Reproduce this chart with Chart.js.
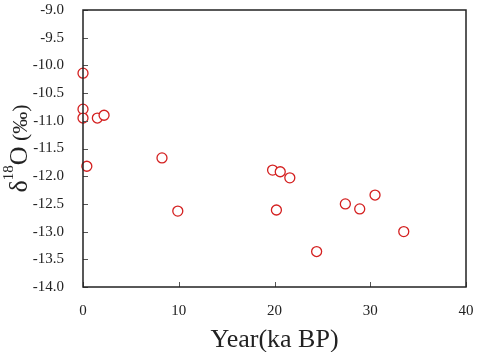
<!DOCTYPE html>
<html>
<head>
<meta charset="utf-8">
<script src="https://cdn.jsdelivr.net/npm/chart.js@4"></script>
<style>
  html, body { margin: 0; padding: 0; background: #fff; }
  #wrap { width: 500px; height: 352px; }
</style>
</head>
<body>
<div id="wrap"><canvas id="chart" width="500" height="352"></canvas></div>
<script>
// sample ages (ka BP) and d18O values (permil)
const ages = [0, 0, 0, 0.4, 1.5, 2.2, 8.25, 9.9, 19.8, 20.6, 21.6, 20.2, 24.4, 27.4, 28.9, 30.5, 33.5];
const d18O = [-10.14, -10.79, -10.95, -11.82, -10.95, -10.90, -11.67, -12.63, -11.89, -11.92, -12.03, -12.61, -13.36, -12.50, -12.59, -12.34, -13.00];
const xTicks = [0, 10, 20, 30, 40];
const yTicks = [-14.0, -13.5, -13.0, -12.5, -12.0, -11.5, -11.0, -10.5, -10.0, -9.5, -9.0];

const serif = "'Liberation Serif', 'Times New Roman', serif";

// box, inward tick marks and axis titles
const framePlugin = {
  id: "frame",
  afterDraw(chart) {
    const ctx = chart.ctx;
    const { left, right, top, bottom } = chart.chartArea;
    const xs = chart.scales.x, ys = chart.scales.y;
    ctx.save();
    ctx.strokeStyle = "#555";
    ctx.lineWidth = 1;
    yTicks.forEach((v) => {
      const y = Math.round(ys.getPixelForValue(v)) + 0.5;
      ctx.beginPath(); ctx.moveTo(left, y); ctx.lineTo(left + 5, y); ctx.stroke();
    });
    xTicks.forEach((v) => {
      const x = Math.round(xs.getPixelForValue(v)) + 0.5;
      ctx.beginPath(); ctx.moveTo(x, bottom); ctx.lineTo(x, bottom - 5); ctx.stroke();
    });
    ctx.strokeStyle = "#222";
    ctx.lineWidth = 1.5;
    ctx.strokeRect(left, top, right - left, bottom - top);

    // x title
    ctx.fillStyle = "#222";
    ctx.font = "26px " + serif;
    ctx.textAlign = "center";
    ctx.textBaseline = "alphabetic";
    ctx.fillText("Year(ka BP)", (left + right) / 2, 347);

    // y title: δ 18O (‰), rotated
    ctx.translate(27, (top + bottom) / 2);
    ctx.rotate(-Math.PI / 2);
    ctx.textAlign = "left";
    const parts = [
      { t: "δ", size: 26, dy: 0 },
      { t: "18", size: 15, dy: -14 },
      { t: "O", size: 26, dy: 0 },
      { t: " (‰)", size: 22, dy: 0 },
    ];
    let w = 0;
    parts.forEach((p) => { ctx.font = p.size + "px " + serif; w += ctx.measureText(p.t).width; });
    let x = -w / 2;
    parts.forEach((p) => {
      ctx.font = p.size + "px " + serif;
      ctx.fillText(p.t, x, p.dy);
      x += ctx.measureText(p.t).width;
    });
    ctx.restore();
  },
};

new Chart(document.getElementById("chart"), {
  type: "scatter",
  data: {
    datasets: [
      {
        label: "d18O",
        data: ages.map((a, i) => ({ x: a, y: d18O[i] })),
        pointStyle: "circle",
        pointRadius: 5,
        pointHoverRadius: 5,
        pointBorderWidth: 1.3,
        pointBorderColor: "#d42020",
        pointBackgroundColor: "#fff",
        clip: false,
      },
    ],
  },
  options: {
    responsive: false,
    animation: false,
    layout: { padding: { left: 0, top: 10, right: 34, bottom: 0 } },
    plugins: { legend: { display: false }, tooltip: { enabled: false } },
    scales: {
      x: {
        type: "linear",
        min: 0,
        max: 40,
        afterFit: (s) => { s.height = 65; s.paddingLeft = 0; s.paddingRight = 0; },
        afterBuildTicks: (s) => { s.ticks = xTicks.map((v) => ({ value: v })); },
        grid: { display: false },
        border: { display: false },
        ticks: { padding: 7, color: "#222", font: { family: serif, size: 15 } },
      },
      y: {
        type: "linear",
        min: -14,
        max: -9,
        afterFit: (s) => { s.width = 83; s.paddingTop = 0; s.paddingBottom = 0; },
        afterBuildTicks: (s) => { s.ticks = yTicks.map((v) => ({ value: v })); },
        grid: { display: false },
        border: { display: false },
        ticks: {
          padding: 11,
          color: "#222",
          font: { family: serif, size: 15 },
          callback: (v) => Number(v).toFixed(1),
        },
      },
    },
  },
  plugins: [framePlugin],
});
</script>
</body>
</html>
